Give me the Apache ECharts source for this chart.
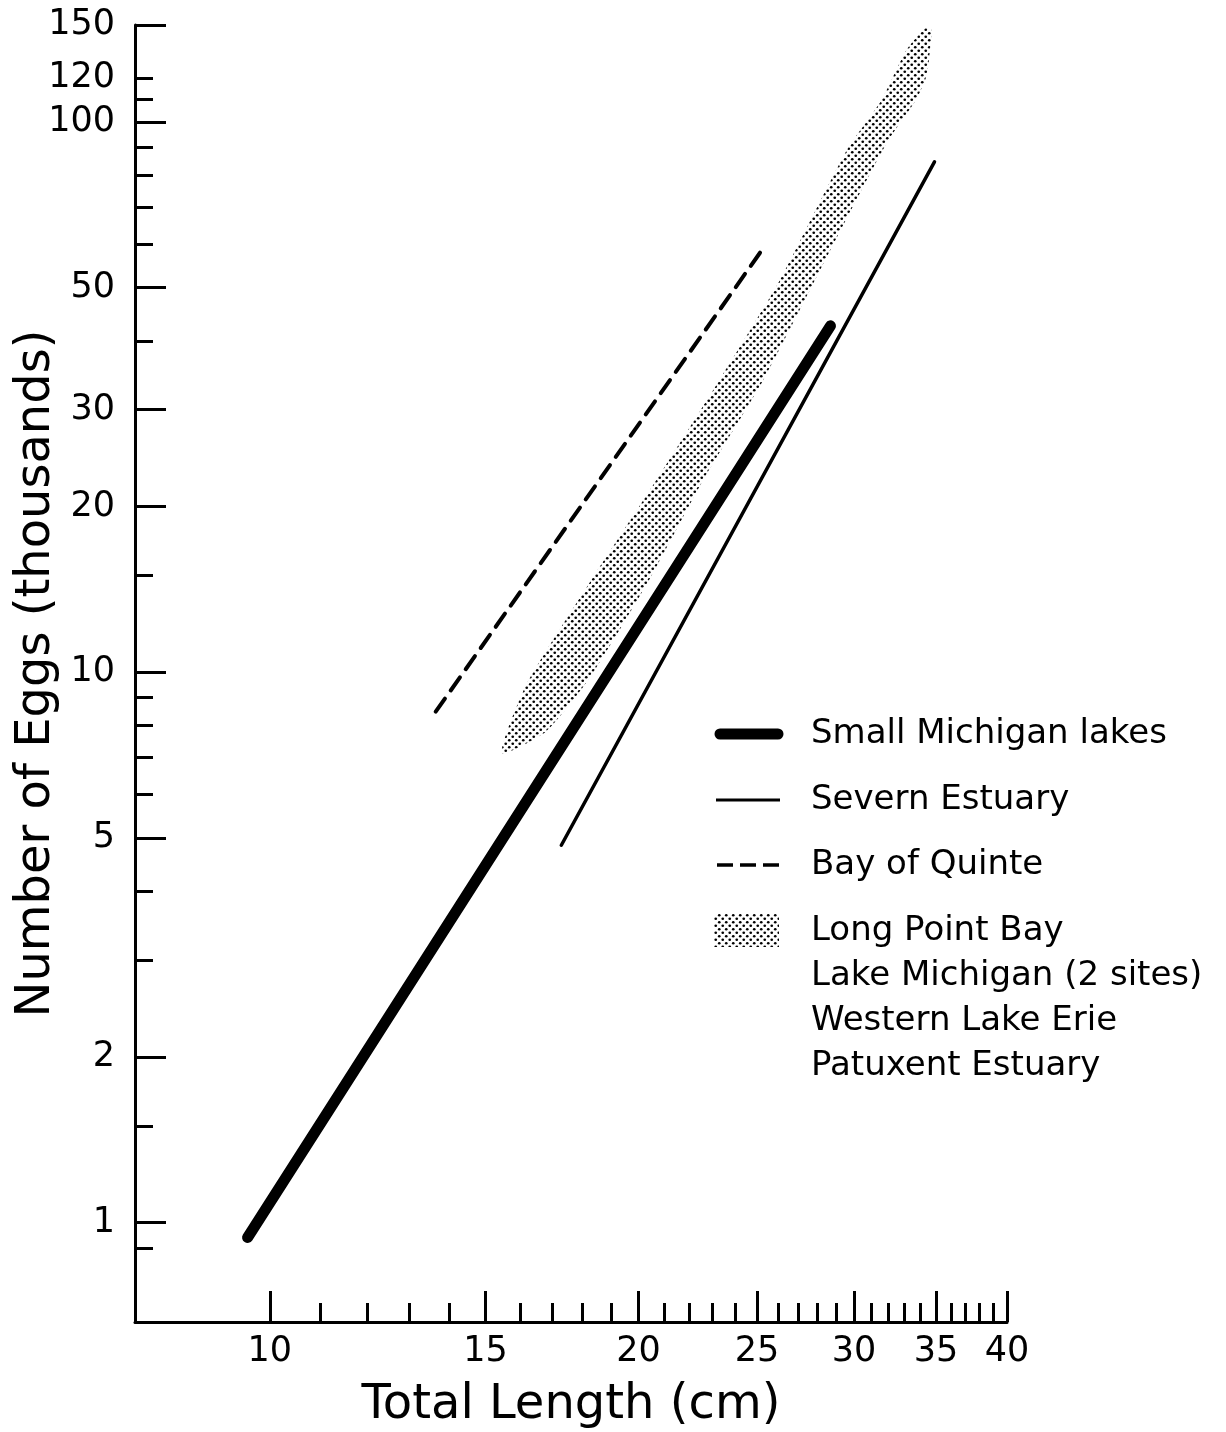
<!DOCTYPE html>
<html>
<head>
<meta charset="utf-8">
<title>Number of Eggs vs Total Length</title>
<script src="https://cdn.jsdelivr.net/npm/echarts@6/dist/echarts.min.js"></script>
<style>
  html, body { margin: 0; padding: 0; background: #fff; }
  #chart { width: 1226px; height: 1432px; }
</style>
</head>
<body>
<div id="chart"></div>
<script>
// axis ranges: total length (cm), eggs (thousands)
const xRange = [7.76, 40];
const yRange = [0.66, 150];

// ticks
const xLabelTicks = [10, 15, 20, 25, 30, 35, 40];
const xMinorTicks = [11, 12, 13, 14, 16, 17, 18, 19, 21, 22, 23, 24, 26, 27, 28, 29, 31, 32, 33, 34, 36, 37, 38, 39];
const yLabelTicks = [1, 2, 5, 10, 20, 30, 50, 100, 120, 150];
const yMajorTicks = [1, 2, 5, 10, 20, 30, 50, 100, 150];
const yMinorTicks = [0.9, 1.5, 3, 4, 6, 7, 8, 9, 15, 40, 60, 70, 80, 90, 110, 120];

// fitted lines, [length, eggs]
const smallMichiganLakes = [[9.59, 0.94], [28.7, 42.6]];
const severnEstuary = [[17.3, 4.85], [34.9, 84.6]];
const bayOfQuinte = [[13.66, 8.48], [25.2, 58.3]];

// stippled band (Long Point Bay, Lake Michigan, W. Lake Erie, Patuxent)
const bandUpper = [[15.47, 7.14], [16.2, 9.5], [18.3, 14.7], [20.7, 22.4], [23.3, 34.0],
    [26.1, 51.6], [29.6, 88.9], [31.6, 109.6], [33.1, 135], [34.3, 148]];
const bandLower = [[34.7, 147], [34.6, 135], [34.4, 121.7], [33.7, 109.6], [31.9, 91.6],
    [28.7, 58.6], [25.3, 34.0], [22.6, 22.4], [20.4, 14.7], [18.2, 9.69], [16.8, 7.8]];

const FONT = '"DejaVu Sans", sans-serif';
const lg = v => Math.log10(v);
const toLog = pts => pts.map(p => [lg(p[0]), lg(p[1])]);

// dot screen used for the band
function stipple() {
    let c = document.createElement('canvas');
    c.width = 7;
    c.height = 7;
    let g = c.getContext('2d');
    g.fillStyle = '#000';
    [[1.75, 1.75], [5.25, 5.25]].forEach(p => {
        g.beginPath();
        g.arc(p[0], p[1], 1.35, 0, Math.PI * 2);
        g.fill();
    });
    return {image: c, repeat: 'repeat'};
}
const dots = stipple();

function logAxis(range, labelTicks, tickVals, tickLen, showLine, pos) {
    return {
        type: 'value',
        position: pos,
        min: lg(range[0]),
        max: lg(range[1]),
        axisLine: {show: showLine, onZero: false, lineStyle: {color: '#000', width: 3}},
        axisTick: {
            show: true,
            inside: true,
            length: tickLen,
            customValues: tickVals.map(lg),
            lineStyle: {color: '#000', width: 3}
        },
        axisLabel: labelTicks ? {
            show: true,
            customValues: labelTicks.map(lg),
            formatter: v => String(Math.round(Math.pow(10, v))),
            color: '#000',
            fontFamily: FONT,
            fontSize: 35
        } : {show: false},
        splitLine: {show: false}
    };
}

let xMain = logAxis(xRange, xLabelTicks, xLabelTicks, 31, true, 'bottom');
xMain.axisLabel.margin = 12;
xMain.name = 'Total Length (cm)';
xMain.nameLocation = 'middle';
xMain.nameGap = 60;
xMain.nameMoveOverlap = false;
xMain.nameTextStyle = {fontFamily: FONT, fontSize: 48, color: '#000'};

let yMain = logAxis(yRange, yLabelTicks, yMajorTicks, 31, true, 'left');
yMain.axisLabel.margin = 20;
yMain.name = 'Number of Eggs (thousands)';
yMain.nameLocation = 'middle';
yMain.nameGap = 74;
yMain.nameMoveOverlap = false;
yMain.nameTextStyle = {fontFamily: FONT, fontSize: 48, color: '#000'};

const chart = echarts.init(document.getElementById('chart'));
chart.setOption({
    animation: false,
    backgroundColor: '#fff',
    grid: {left: 135, right: 219, top: 25, bottom: 110, containLabel: false, outerBoundsMode: 'none'},
    xAxis: [xMain, logAxis(xRange, null, xMinorTicks, 19, false, 'bottom')],
    yAxis: [yMain, logAxis(yRange, null, yMinorTicks, 18, false, 'left')],
    series: [
        {
            name: 'Long Point Bay',
            type: 'custom',
            data: [toLog(bandUpper)[0]],
            renderItem: function (params, api) {
                let pts = toLog(bandUpper.concat(bandLower)).map(p => api.coord(p));
                return {type: 'polygon', shape: {points: pts, smooth: 0.2}, style: {fill: dots, stroke: null}};
            }
        },
        {
            name: 'Small Michigan lakes',
            type: 'line',
            data: toLog(smallMichiganLakes),
            symbol: 'none',
            lineStyle: {color: '#000', width: 11, cap: 'round'}
        },
        {
            name: 'Severn Estuary',
            type: 'line',
            data: toLog(severnEstuary),
            symbol: 'none',
            lineStyle: {color: '#000', width: 3.5, cap: 'round'}
        },
        {
            name: 'Bay of Quinte',
            type: 'line',
            data: toLog(bayOfQuinte),
            symbol: 'none',
            lineStyle: {color: '#000', width: 4, type: [16, 10], cap: 'round'}
        }
    ],
    // key drawn by hand, the last entry spans four lines
    graphic: [
        {type: 'line', shape: {x1: 720, y1: 734, x2: 778, y2: 734}, style: {stroke: '#000', lineWidth: 11, lineCap: 'round'}},
        {type: 'line', shape: {x1: 716, y1: 800, x2: 780, y2: 800}, style: {stroke: '#000', lineWidth: 3}},
        {type: 'line', shape: {x1: 717, y1: 865, x2: 780, y2: 865}, style: {stroke: '#000', lineWidth: 3.5, lineDash: [16, 7]}},
        {type: 'rect', shape: {x: 714, y: 913, width: 65, height: 34}, style: {fill: dots, stroke: null}},
        {type: 'text', x: 811, y: 734, style: {text: 'Small Michigan lakes', font: '34px ' + FONT, fill: '#000', verticalAlign: 'middle'}},
        {type: 'text', x: 811, y: 800, style: {text: 'Severn Estuary', font: '34px ' + FONT, fill: '#000', verticalAlign: 'middle'}},
        {type: 'text', x: 811, y: 865, style: {text: 'Bay of Quinte', font: '34px ' + FONT, fill: '#000', verticalAlign: 'middle'}},
        {
            type: 'text', x: 811, y: 909,
            style: {
                text: 'Long Point Bay\nLake Michigan (2 sites)\nWestern Lake Erie\nPatuxent Estuary',
                font: '34px ' + FONT, fill: '#000', verticalAlign: 'top', lineHeight: 45
            }
        }
    ]
});
</script>
</body>
</html>
